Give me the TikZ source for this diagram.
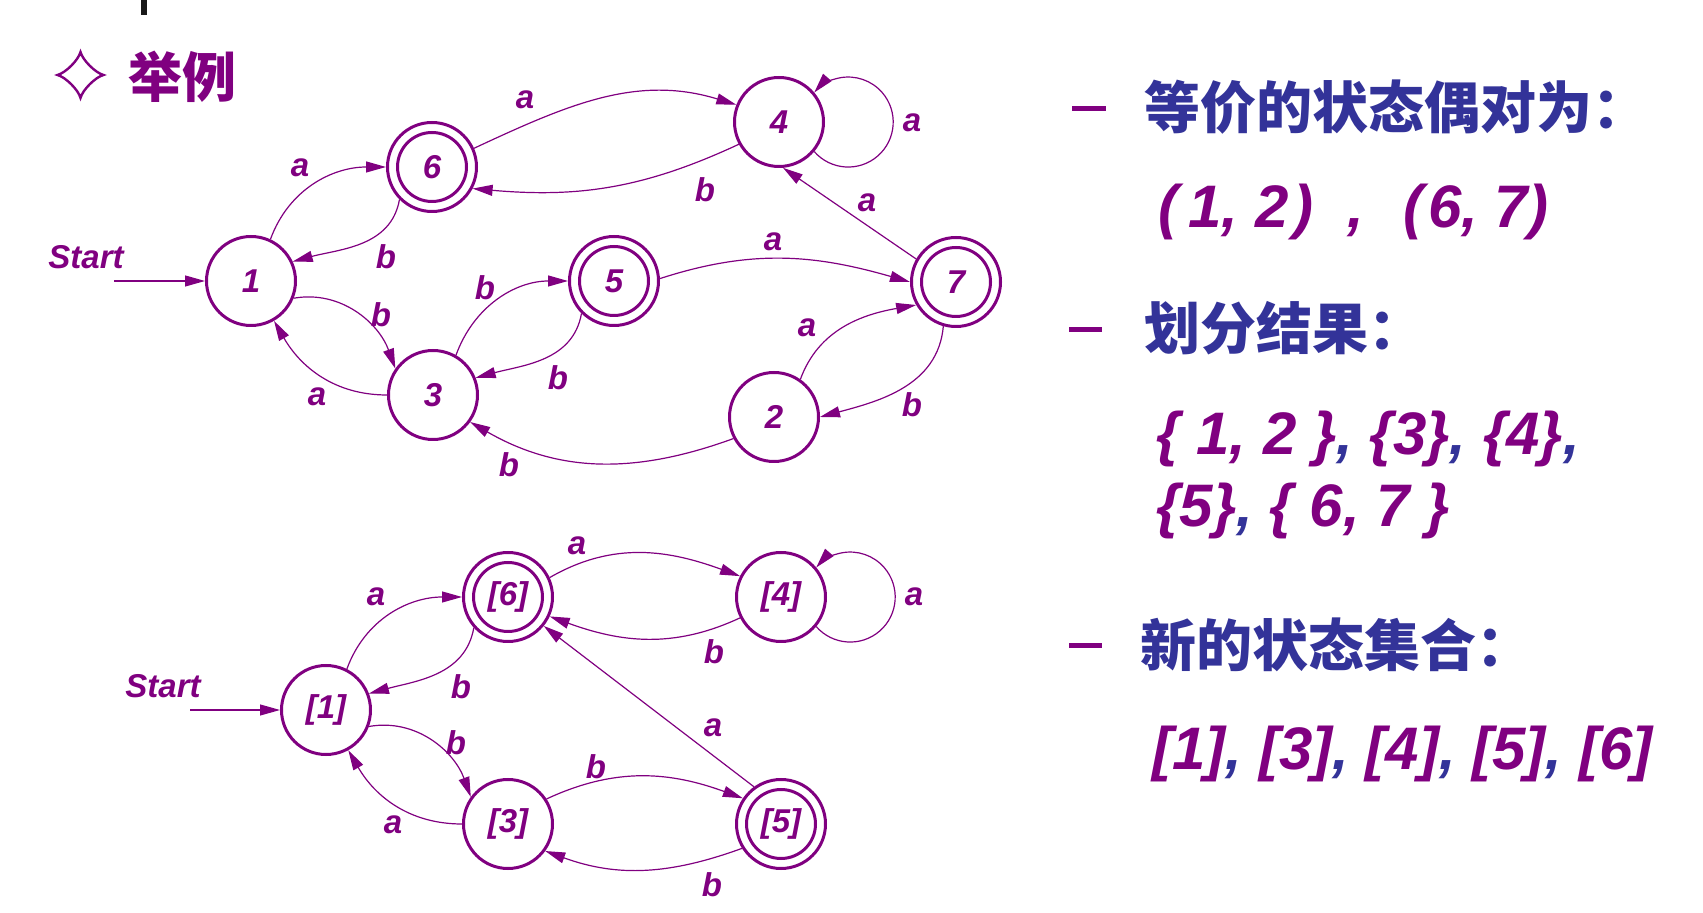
\documentclass[tikz,border=0pt]{standalone}
\usepackage{fontspec}
\setmainfont{Liberation Sans}
\newfontfamily\cjkfont{Noto Sans CJK SC}[BoldFont={Noto Sans CJK SC Black}]
\usetikzlibrary{arrows.meta}
\definecolor{pur}{HTML}{800080}
\definecolor{blu}{HTML}{333399}
\newcommand\lblfont{\fontsize{16.5}{18}\selectfont\bfseries\itshape}
\newcommand\bigfont{\fontsize{30}{34}\selectfont\bfseries\itshape}
\newcommand\headfont{\cjkfont\bfseries\fontsize{28}{32}\selectfont}
\newcommand\bc{\textcolor{blu}{,}}
\tikzset{
  st/.style={circle, draw=pur, line width=1.5pt, minimum size=44.5pt, inner sep=0pt, text=pur, font=\lblfont},
  ring/.style={draw=pur, line width=1.5pt},
  edge/.style={draw=pur, line width=0.6pt, -{Triangle[length=10pt,width=5.5pt]}},
  lbl/.style={text=pur, font=\lblfont, inner sep=0pt},
  bar/.style={draw=pur, line width=2.5pt},
  head/.style={text=blu, font=\headfont, inner sep=0pt, anchor=west},
  big/.style={text=pur, font=\bigfont, inner sep=0pt, anchor=base west}
}
\begin{document}
\begin{tikzpicture}[x=0.5pt,y=0.5pt]
\useasboundingbox (0,0) rectangle (1703,-913);

% small mark at the top edge
\fill[black!90] (141,0) rectangle (147,-15);

% title with its four-pointed star
\begin{scope}[shift={(80.5,-75)}]
\draw[pur, line width=1.2pt] (0,23) .. controls (2,15) and (15,2) .. (23,0)
  .. controls (15,-2) and (2,-15) .. (0,-23)
  .. controls (-2,-15) and (-15,-2) .. (-23,0)
  .. controls (-15,2) and (-2,15) .. (0,23) -- cycle;
\end{scope}
\node[text=pur, font={\cjkfont\bfseries\fontsize{27}{30}\selectfont}, inner sep=0pt, anchor=west] (title) at (128,-77) {举例};

% ---------- original DFA ----------
\node[st] (n1) at (251,-281) {1};
\node[st] (n3) at (433,-395) {3};
\node[st] (n5) at (614,-281) {5};
\node[st] (n2) at (774,-417) {2};
\node[st] (n4) at (779,-122) {4};
\node[st] (n7) at (956,-282) {7};
\node[st] (n6) at (432,-167) {6};

% ---------- minimised DFA ----------
\node[st] (b1) at (326,-710) {[1]};
\node[st] (b6) at (508,-597) {[6]};
\node[st] (b3) at (508,-824) {[3]};
\node[st] (b4) at (781,-597) {[4]};
\node[st] (b5) at (781,-824) {[5]};

% accepting states
\foreach \s in {n5,n6,n7,b5,b6} \draw[ring] (\s.center) circle (34.5);

% start arrows
\node[lbl] (start1) at (86,-257) {Start};
\node[lbl] (start2) at (163,-686) {Start};
\coordinate (s1) at (114,-281);
\coordinate (s2) at (190,-710);
\draw[edge] (s1) -- (n1.180);
\draw[edge] (s2) -- (b1.180);

% transitions of the original DFA
\draw[edge] (n1.65) to[out=70,in=180] (n6.180);
\draw[edge] (n6.225) to[out=260,in=15] (n1.25);
\draw[edge] (n1.-22) to[out=10,in=110] (n3.145);
\draw[edge] (n3.180) to[out=180,in=-60] (n1.-60);
\draw[edge] (n3.60) to[out=70,in=180] (n5.180);
\draw[edge] (n5.225) to[out=260,in=15] (n3.22);
\draw[edge] (n5.3) to[out=18,in=164] (n7.180);
\draw[edge] (n7.150) -- (n4.-85);
\draw[edge] (n2.55) to[out=70,in=190] (n7.210);
\draw[edge] (n7.254) to[out=265,in=15] (n2.0);
\draw[edge] (n2.208) to[out=200,in=-30] (n3.-36);
\draw[edge] (n6.24) to[out=25,in=163] (n4.158);
\draw[edge] (n4.209) to[out=205,in=-5] (n6.-28);
\draw[edge] (n4.-40) arc[start angle=221,end angle=499,radius=45];

\node[lbl] (la16) at (300,-168) {a};
\node[lbl] (lb61) at (386,-257) {b};
\node[lbl] (la64) at (525,-100) {a};
\node[lbl] (lb13) at (381,-315) {b};
\node[lbl] (la31) at (317,-397) {a};
\node[lbl] (lb35) at (485,-288) {b};
\node[lbl] (lb53) at (558,-378) {b};
\node[lbl] (lb23) at (509,-465) {b};
\node[lbl] (la27) at (807,-328) {a};
\node[lbl] (la57) at (773,-242) {a};
\node[lbl] (la74) at (867,-203) {a};
\node[lbl] (lb46) at (705,-190) {b};
\node[lbl] (la44) at (912,-123) {a};
\node[lbl] (lb72) at (912,-405) {b};

% transitions of the minimised DFA
\draw[edge] (b1.63) to[out=70,in=180] (b6.180);
\draw[edge] (b6.222) to[out=260,in=15] (b1.21);
\draw[edge] (b1.-21) to[out=10,in=110] (b3.144);
\draw[edge] (b3.180) to[out=180,in=-60] (b1.-61);
\draw[edge] (b6.25) to[out=30,in=160] (b4.153);
\draw[edge] (b4.207) to[out=205,in=-20] (b6.-25);
\draw[edge] (b4.-40) arc[start angle=221,end angle=499,radius=45];
\draw[edge] (b5.126) -- (b6.-39);
\draw[edge] (b3.33) to[out=25,in=160] (b5.146);
\draw[edge] (b5.212) to[out=200,in=-20] (b3.-36);

\node[lbl] (ma16) at (376,-597) {a};
\node[lbl] (mb61) at (461,-687) {b};
\node[lbl] (mb13) at (456,-743) {b};
\node[lbl] (ma31) at (393,-825) {a};
\node[lbl] (ma64) at (577,-546) {a};
\node[lbl] (mb46) at (714,-652) {b};
\node[lbl] (ma44) at (914,-597) {a};
\node[lbl] (ma56) at (713,-728) {a};
\node[lbl] (mb35) at (596,-767) {b};
\node[lbl] (mb53) at (712,-885) {b};

% ---------- notes on the right ----------
\draw[bar] (1072,-109) -- (1106,-109);
\node[head] (h1) at (1144,-107) {等价的状态偶对为：};
\node[big] (pairs) at (1158,-228) {(\kern5pt 1, 2\kern2.5pt)\kern17pt,\kern19.5pt(\kern2.5pt 6, 7)};

\draw[bar] (1069,-330) -- (1102,-330);
\node[head] (h2) at (1144,-328) {划分结果：};
\node[big] (part1) at (1156,-455) {\{ 1, 2 \}\bc{} \{3\}\bc{} \{4\}\bc};
\node[big] (part2) at (1156,-527) {\{5\}\bc{} \{ 6, 7 \}};

\draw[bar] (1069,-646) -- (1102,-646);
\node[head] (h3) at (1140,-645) {新的状态集合：};
\node[big] (newset) at (1152,-770) {[1]\bc{} [3]\bc{} [4]\bc{} [5]\bc{} [6]};
\end{tikzpicture}
\end{document}
